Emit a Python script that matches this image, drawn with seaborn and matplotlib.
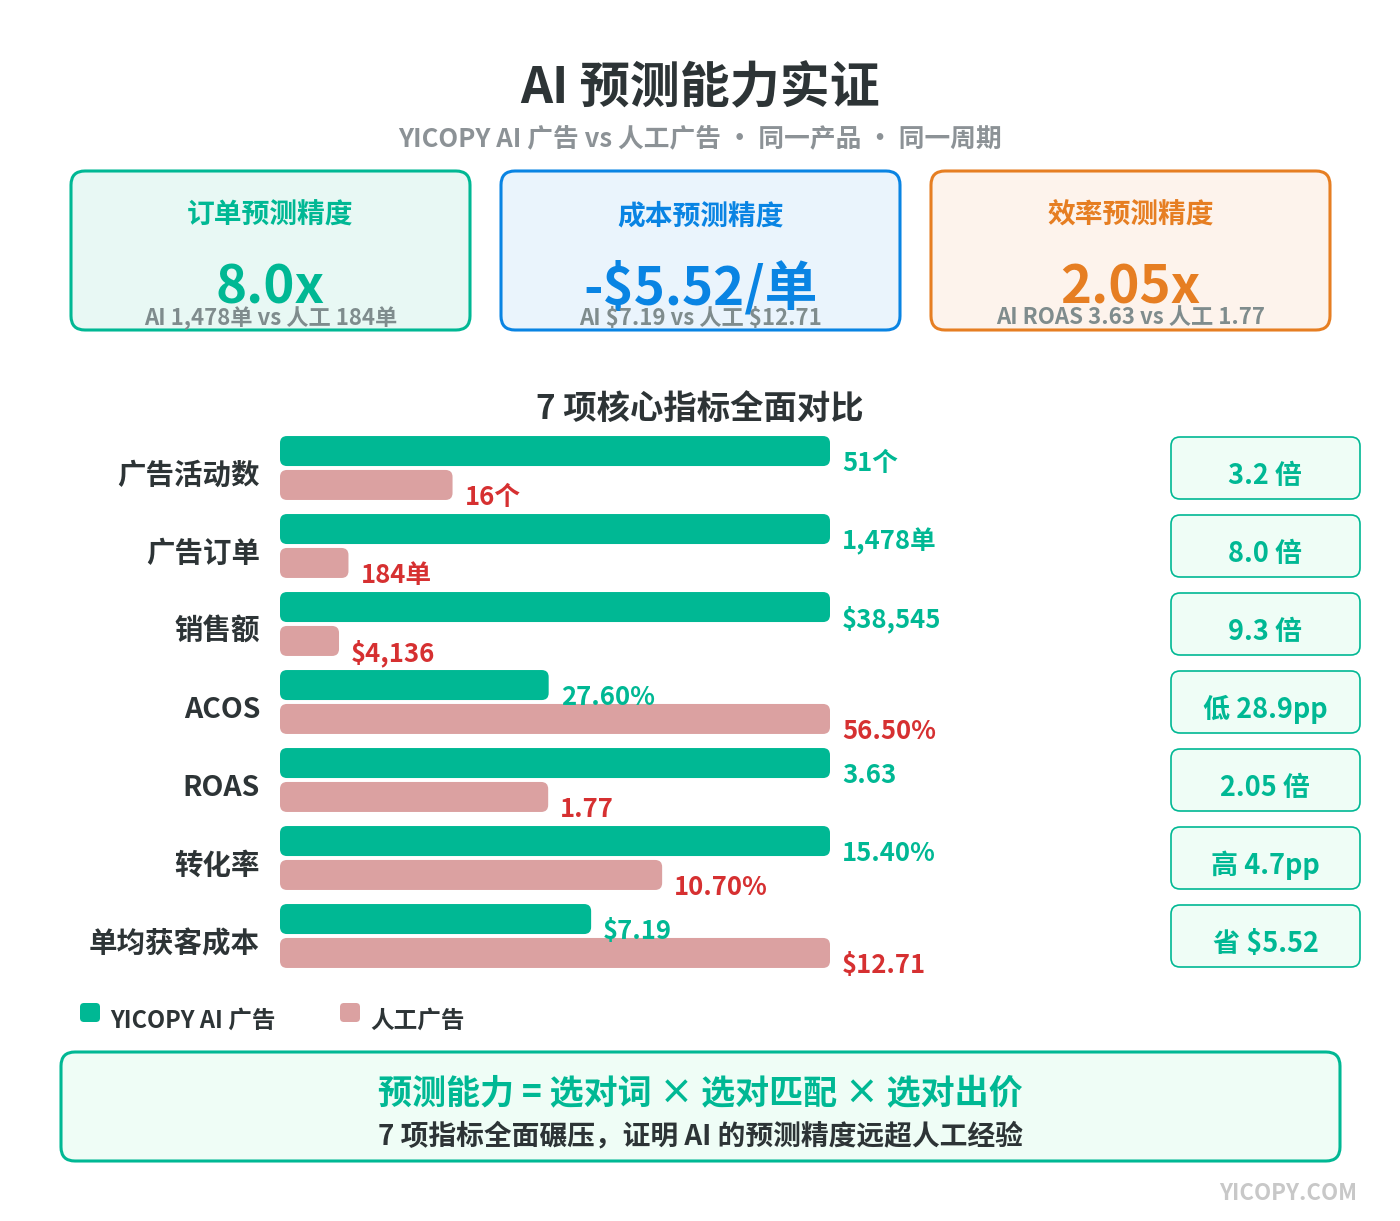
import matplotlib
matplotlib.use("Agg")
import matplotlib.pyplot as plt
from matplotlib.patches import FancyBboxPatch
import pandas as pd
import seaborn as sns

# data
categories = ['广告活动数', '广告订单', '销售额', 'ACOS', 'ROAS', '转化率', '单均获客成本']
ai_values = [51, 1478, 38545, 27.6, 3.63, 15.4, 7.19]
human_values = [16, 184, 4136, 56.5, 1.77, 10.7, 12.71]
ai_labels = ['51个', '1,478单', '$38,545', '27.60%', '3.63', '15.40%', '$7.19']
human_labels = ['16个', '184单', '$4,136', '56.50%', '1.77', '10.70%', '$12.71']
badges = ['3.2 倍', '8.0 倍', '9.3 倍', '低 28.9pp', '2.05 倍', '高 4.7pp', '省 $5.52']
series_names = ['YICOPY AI 广告', '人工广告']

card_titles = ['订单预测精度', '成本预测精度', '效率预测精度']
card_values = ['8.0x', '-$5.52/单', '2.05x']
card_notes = ['AI 1,478单 vs 人工 184单', 'AI $7.19 vs 人工 $12.71', 'AI ROAS 3.63 vs 人工 1.77']

GREEN = '#00b894'
PINK = '#dba1a1'
RED = '#d63031'
DARK = '#2d3436'
GRAY = '#7f8c8d'
card_edges = ['#00b894', '#0984e3', '#e67e22']
card_fills = ['#e8f8f4', '#eaf4fc', '#fdf3ec']

sns.set_theme(style='white')
plt.rcParams['font.family'] = ['Noto Sans CJK SC', 'DejaVu Sans']
plt.rcParams['text.parse_math'] = False

W, H = 1400, 1221
fig = plt.figure(figsize=(W / 100, H / 100), dpi=100)
fig.patch.set_facecolor('white')

# overlay in pixel coords
ov = fig.add_axes([0, 0, 1, 1])
ov.set_xlim(0, W)
ov.set_ylim(H, 0)
ov.axis('off')


def rbox(x, y, w, h, r, fc, ec, lw):
    ov.add_patch(FancyBboxPatch((x, y), w, h, boxstyle=f'round,pad=0,rounding_size={r}',
                                fc=fc, ec=ec, lw=lw))


ov.text(700, 89, 'AI 预测能力实证', ha='center', va='center', fontsize=36,
        fontweight='bold', color=DARK)
ov.text(700, 140, 'YICOPY AI 广告 vs 人工广告 · 同一产品 · 同一周期', ha='center',
        va='center', fontsize=18.5, fontweight='bold', color='#8c9296')

# cards
for i in range(3):
    x0 = 71 + i * 430
    rbox(x0, 171, 399, 159, 14, card_fills[i], card_edges[i], 2.2)
    cx = x0 + 199.5
    ov.text(cx, 216, card_titles[i], ha='center', va='center', fontsize=20,
            fontweight='bold', color=card_edges[i])
    ov.text(cx, 288, card_values[i], ha='center', va='center', fontsize=38,
            fontweight='bold', color=card_edges[i])
    ov.text(cx, 318, card_notes[i], ha='center', va='center', fontsize=16,
            fontweight='bold', color=GRAY)

ov.text(700, 409, '7 项核心指标全面对比', ha='center', va='center', fontsize=24,
        fontweight='bold', color=DARK)

# bar chart
rows = []
for cat, a, h in zip(categories, ai_values, human_values):
    top = max(a, h)
    rows.append({'metric': cat, 'series': series_names[0], 'share': a / top})
    rows.append({'metric': cat, 'series': series_names[1], 'share': h / top})
df = pd.DataFrame(rows)

row_px = 78
bax = fig.add_axes([280 / W, (H - 975) / H, 550 / W, 546 / H])
bax.patch.set_alpha(0)
sns.barplot(data=df, y='metric', x='share', hue='series', order=categories,
            hue_order=series_names, palette=[GREEN, PINK], width=0.87,
            saturation=1, orient='h', legend=False, ax=bax)
bax.set_xlim(0, 1)
bax.set_ylim(6.5, -0.5)
bax.axis('off')

px_x = 1 / 550
px_y = 1 / row_px
text_cols = [GREEN, RED]
text_lists = [ai_labels, human_labels]
for k, cont in enumerate(bax.containers):
    for j, p in enumerate(cont.patches):
        x, y, w, h = p.get_x(), p.get_y(), p.get_width(), p.get_height()
        yc = y + h / 2
        p.remove()
        hh = 30 * px_y
        bax.add_patch(FancyBboxPatch((x, yc - hh / 2), w, hh,
                                     boxstyle=f'round,pad=0,rounding_size={7 * px_x}',
                                     mutation_aspect=px_y / px_x,
                                     fc=p.get_facecolor(), ec='none'))
        bax.text(x + w + 12 * px_x, yc + 20 * px_y, text_lists[k][j], ha='left',
                 va='baseline', fontsize=18.5, fontweight='bold', color=text_cols[k],
                 clip_on=False)

for i, cat in enumerate(categories):
    bax.text(-20 * px_x, i + 16 * px_y, cat, ha='right', va='baseline', fontsize=20.5,
             fontweight='bold', color=DARK, clip_on=False)

# badges
for i, b in enumerate(badges):
    yc = 468 + row_px * i
    rbox(1171, yc - 31, 189, 62, 9, '#effdf6', GREEN, 1.2)
    ov.text(1265.5, yc + 16, b, ha='center', va='baseline', fontsize=19.5,
            fontweight='bold', color=GREEN)

# legend
rbox(80, 1003, 20, 19, 4, GREEN, 'none', 0)
ov.text(110, 1021, series_names[0], ha='left', va='center', fontsize=17,
        fontweight='bold', color=DARK)
rbox(340, 1003, 20, 19, 4, PINK, 'none', 0)
ov.text(370, 1021, series_names[1], ha='left', va='center', fontsize=17,
        fontweight='bold', color=DARK)

# bottom summary
rbox(61, 1052, 1279, 109, 14, '#effdf6', GREEN, 2.2)
ov.text(700, 1094, '预测能力 = 选对词 × 选对匹配 × 选对出价', ha='center', va='center',
        fontsize=24.5, fontweight='bold', color=GREEN)
ov.text(700, 1136, '7 项指标全面碾压，证明 AI 的预测精度远超人工经验', ha='center',
        va='center', fontsize=20, fontweight='bold', color=DARK)

ov.text(1357, 1193, 'YICOPY.COM', ha='right', va='center', fontsize=16,
        fontweight='bold', color='#c8c8c8')

fig.savefig('out.png', dpi=100, facecolor='white')
